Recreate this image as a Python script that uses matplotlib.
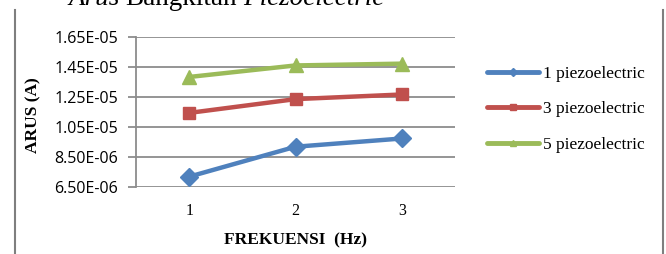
import matplotlib.pyplot as plt
from matplotlib.lines import Line2D
from matplotlib.ticker import FixedLocator

# Data
frekuensi = [1, 2, 3]
arus_1 = [7.17e-06, 9.17e-06, 9.72e-06]
arus_3 = [1.143e-05, 1.235e-05, 1.266e-05]
arus_5 = [1.383e-05, 1.460e-05, 1.472e-05]
y_ticks = [6.5e-06, 8.5e-06, 1.05e-05, 1.25e-05, 1.45e-05, 1.65e-05]
y_labels = ["6.50E-06", "8.50E-06", "1.05E-05", "1.25E-05", "1.45E-05", "1.65E-05"]
series_names = ["1 piezoelectric", "3 piezoelectric", "5 piezoelectric"]

colors = ["#4F81BD", "#C0504D", "#9BBB59"]
markers = ["D", "s", "^"]
msizes = [9, 9, 10]
grid_color = "#8C8C8C"
serif = ["Liberation Serif", "DejaVu Serif"]

fig = plt.figure(figsize=(6.66, 2.54), dpi=100)
W, H = 666, 254
# plot area in pixels: left 136, right 455, top 37, bottom 186.7
ax = fig.add_axes([136 / W, 1 - 186.7 / H, (455 - 136) / W, (186.7 - 37) / H])

for vals, c, m, ms in zip([arus_1, arus_3, arus_5], colors, markers, msizes):
    ax.plot(frekuensi, vals, color=c, marker=m, markersize=ms, linewidth=3.2,
            markeredgecolor=c, solid_capstyle="round", zorder=3, clip_on=False)

ax.set_xlim(0.5, 3.5)
ax.set_ylim(6.5e-06, 1.65e-05)
ax.yaxis.set_major_locator(FixedLocator(y_ticks))
ax.set_yticklabels(y_labels, fontfamily=["Open Sans", "DejaVu Sans"], fontsize=11.5)
ax.set_xticks(frekuensi)
ax.set_xticklabels([str(f) for f in frekuensi], fontfamily=serif, fontsize=11.5)
ax.tick_params(axis="x", length=0, pad=12)
ax.tick_params(axis="y", length=6, width=1.3, color=grid_color, pad=7)
ax.grid(axis="y", color=grid_color, linewidth=1.3)
ax.set_axisbelow(True)
for s in ["top", "right", "bottom"]:
    ax.spines[s].set_visible(False)
ax.spines["left"].set_color(grid_color)
ax.spines["left"].set_linewidth(1.3)

fig.text(33 / W, 1 - 115 / H, "ARUS (A)", rotation=90, ha="center", va="center",
         fontfamily=serif, fontweight="bold", fontsize=12.5)
fig.text(295 / W, 1 - 240 / H, "FREKUENSI  (Hz)", ha="center", va="center",
         fontfamily=serif, fontweight="bold", fontsize=12.5)

# title, cut at the top edge of the picture as in the source
title_y = 1 - 5 / H
t1 = fig.text(68 / W, title_y, "Arus", ha="left", va="baseline",
              fontfamily=serif, fontsize=19.5, fontstyle="italic")
fig.canvas.draw()
x1 = t1.get_window_extent().x1
t2 = fig.text((x1 + 6) / W, title_y, "Bangkitan", ha="left", va="baseline",
              fontfamily=serif, fontsize=19.5)
fig.canvas.draw()
x2 = t2.get_window_extent().x1
fig.text((x2 + 6) / W, title_y, "Piezoelectric", ha="left", va="baseline",
         fontfamily=serif, fontsize=19.5, fontstyle="italic")

# legend
handles = [Line2D([0], [0], color=c, marker=m, markersize=4, linewidth=3.5,
                  solid_capstyle="round") for c, m in zip(colors, markers)]
fig.legend(handles, series_names, loc="upper left", bbox_to_anchor=(480 / W, 1 - 59 / H),
           frameon=False, prop={"family": serif, "size": 12.5}, handlelength=3.0,
           handletextpad=0.25, labelspacing=1.1, borderaxespad=0)

# chart frame lines
fig.add_artist(Line2D([15 / W, 15 / W], [0, 1 - 10 / H], color="#7F7F7F", linewidth=1.5))
fig.add_artist(Line2D([663 / W, 663 / W], [0, 1 - 10 / H], color="#7F7F7F", linewidth=1.5))

fig.savefig("out.png", dpi=100)
